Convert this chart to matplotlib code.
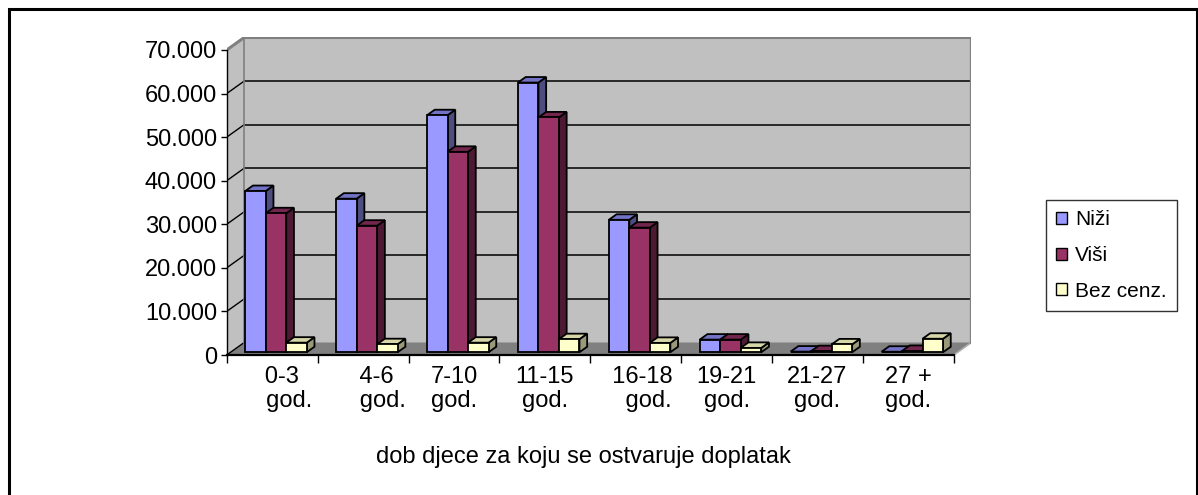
import matplotlib
matplotlib.use('Agg')
import matplotlib.pyplot as plt
from matplotlib.patches import Polygon, Patch, Rectangle
from matplotlib.ticker import FuncFormatter, FixedLocator
import numpy as np

plt.rcParams['font.family'] = ['Liberation Sans', 'DejaVu Sans']

# ---- data ----
categories = ['   0-3\n     god.', '    4-6\n      god.', '7-10\ngod.', '11-15\ngod.',
              '  16-18\n    god.', '19-21\ngod.', '21-27\ngod.', '27 +\ngod.']
series_names = ['Niži', 'Viši', 'Bez cenz.']
nizi = [37000, 35250, 54400, 61900, 30400, 2900, 150, 120]
visi = [31900, 29050, 46000, 53900, 28600, 2900, 250, 300]
bez_cenz = [2200, 1850, 2200, 3000, 2150, 1000, 1800, 3100]
y_ticks = [0, 10000, 20000, 30000, 40000, 50000, 60000, 70000]
x_title = 'dob djece za koju se ostvaruje doplatak'

# ---- styling ----
front_cols = ['#9999FF', '#993366', '#FFFFCC']
top_cols = ['#7373C6', '#73264D', '#D6D6A8']
side_cols = ['#4D4D80', '#4D1A33', '#9A9A7A']

W, H = 1198, 495
fig = plt.figure(figsize=(W / 100, H / 100), dpi=100)

px_per_unit_y = 305.0 / 70000.0   # pixels per data unit (y)
px_per_cat = 90.9
DX = 17.5 / px_per_cat            # full depth, x (data units)
DY = 12.5 / px_per_unit_y         # full depth, y (data units)
ymax = y_ticks[-1]
n = len(categories)

left_px, bottom_px = 226.7, 355.0
ax_w_px = (n + DX) * px_per_cat
ax_h_px = (ymax + DY) * px_per_unit_y
ax = fig.add_axes([left_px / W, (H - bottom_px) / H, ax_w_px / W, ax_h_px / H])
ax.set_xlim(0, n + DX)
ax.set_ylim(0, ymax + DY)
ax.patch.set_visible(False)

wall = '#C0C0C0'
floor = '#808080'
border = '#808080'

# back wall
ax.add_patch(Rectangle((DX, DY), n, ymax, facecolor=wall, edgecolor='none', zorder=0))
# left wall
ax.add_patch(Polygon([(0, 0), (DX, DY), (DX, ymax + DY), (0, ymax)], closed=True,
                     facecolor=wall, edgecolor='none', zorder=0))
# floor
ax.add_patch(Polygon([(0, 0), (n, 0), (n + DX, DY), (DX, DY)], closed=True,
                     facecolor=floor, edgecolor='none', zorder=0.5))
# gridlines
for v in y_ticks[1:-1]:
    ax.plot([DX, n + DX], [v + DY, v + DY], color='black', lw=1.1, zorder=1)
for v in y_ticks[:-1]:
    ax.plot([0, DX], [v, v + DY], color='black', lw=1.0, zorder=1)
# wall borders
ax.plot([0, DX, n + DX, n + DX], [ymax, ymax + DY, ymax + DY, DY], color=border,
        lw=2.2, zorder=1.2, solid_joinstyle='miter')
ax.plot([DX, DX], [DY, ymax + DY], color=border, lw=1.2, zorder=1.1)
ax.plot([n, n + DX], [0, DY], color='#B0B0B0', lw=1.2, zorder=1.1)

# bars
d0, d1 = 0.22, 0.66
bw = 0.2255
gap = (1 - 3 * bw) / 2
series = [nizi, visi, bez_cenz]
x_idx = np.arange(n)
ex, ey = (d1 - d0) * DX, (d1 - d0) * DY
for j, vals in enumerate(series):
    xs = x_idx + gap + j * bw + d0 * DX
    by = d0 * DY
    ax.bar(xs, vals, width=bw, bottom=by, align='edge', color=front_cols[j],
           edgecolor='black', linewidth=1.3, zorder=3.5 + j)
    for x0, v in zip(xs, vals):
        top = Polygon([(x0, by + v), (x0 + bw, by + v), (x0 + bw + ex, by + v + ey),
                       (x0 + ex, by + v + ey)], closed=True, facecolor=top_cols[j],
                      edgecolor='black', linewidth=1.3, zorder=3 + j, joinstyle='miter')
        side = Polygon([(x0 + bw, by), (x0 + bw + ex, by + ey), (x0 + bw + ex, by + v + ey),
                        (x0 + bw, by + v)], closed=True, facecolor=side_cols[j],
                       edgecolor='black', linewidth=1.3, zorder=3 + j, joinstyle='miter')
        ax.add_patch(side)
        ax.add_patch(top)

# axes
for s in ['top', 'right']:
    ax.spines[s].set_visible(False)
ax.spines['left'].set_bounds(0, ymax)
ax.spines['bottom'].set_bounds(0, n)
ax.spines['left'].set_linewidth(1.0)
ax.spines['bottom'].set_linewidth(1.6)
ax.set_yticks(y_ticks)
ax.yaxis.set_major_formatter(FuncFormatter(lambda v, p: f"{int(v):,}".replace(',', '.')))
ax.tick_params(axis='y', direction='out', length=4, width=1, pad=3, labelsize=17)
ax.xaxis.set_major_locator(FixedLocator(np.arange(n + 1)))
ax.xaxis.set_major_formatter(FuncFormatter(lambda v, p: ''))
ax.set_xticks(x_idx + 0.5, categories, minor=True)
ax.tick_params(axis='x', which='major', direction='out', length=5.5, width=1)
ax.tick_params(axis='x', which='minor', length=0, pad=8, labelsize=17)
for lab in ax.get_xticklabels(minor=True):
    lab.set_linespacing(1.1)
    lab.set_multialignment('center')

fig.text(583 / W, 1 - 456.7 / H, x_title, ha='center', va='center', fontsize=17)

# legend
handles = [Patch(facecolor=c, edgecolor='black', linewidth=1.0) for c in front_cols]
leg = fig.legend(handles, series_names, loc='upper left',
                 bbox_to_anchor=(1046 / W, 1 - 200 / H), bbox_transform=fig.transFigure,
                 fontsize=15, frameon=True, fancybox=False, shadow=False,
                 handlelength=0.5, handleheight=0.5, handletextpad=0.4,
                 labelspacing=0.8, borderpad=0.5, borderaxespad=0)
leg.get_frame().set_edgecolor('black')
leg.get_frame().set_linewidth(1.0)

# outer border
fig.add_artist(Rectangle((8.5 / W, -0.05), (1196.5 - 8.5) / W, 1.05 - 9 / H,
                         transform=fig.transFigure, fill=False, edgecolor='black',
                         linewidth=2.2, clip_on=False))

fig.savefig('out.png', dpi=100)
